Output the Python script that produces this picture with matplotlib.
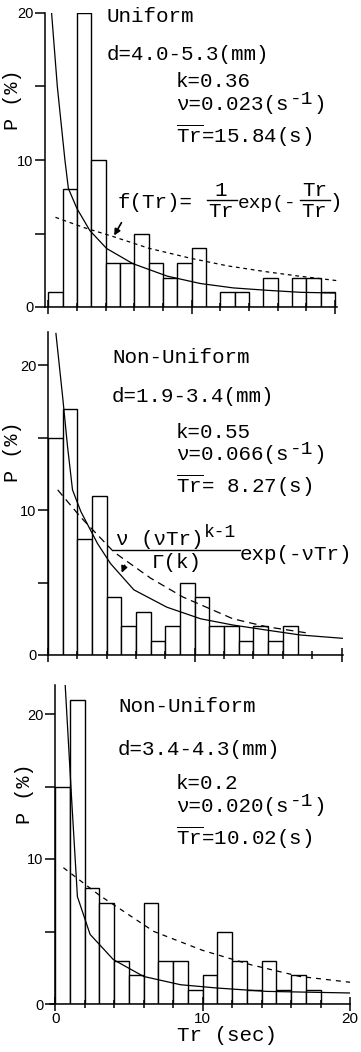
import matplotlib
matplotlib.use("Agg")
import matplotlib.pyplot as plt
from matplotlib.lines import Line2D
import numpy as np

# histogram values, bins of 1 s from 0 to 20
tr_left = np.arange(20)
p_uniform = [1, 8, 20, 10, 3, 3, 5, 3, 2, 3, 4, 0, 1, 1, 0, 2, 0, 2, 2, 1]
p_nonuni_a = [15, 17, 8, 11, 4, 2, 3, 1, 2, 5, 4, 2, 2, 1, 2, 1, 2, 0, 0, 0]
p_nonuni_b = [15, 21, 8, 7, 3, 2, 7, 3, 3, 1, 2, 5, 3, 1, 3, 1, 2, 1, 0, 0]

# fitted curves (solid = gamma, dashed = exponential)
gam1_x = [0.23, 0.63, 1.16, 1.4, 2.0, 2.9, 4.07, 5.9, 8.3, 10.6, 12.9, 15.2, 17.6, 20.0]
gam1_y = [20.0, 15.0, 10.0, 8.07, 6.7, 5.2, 3.98, 2.95, 2.1, 1.6, 1.3, 1.14, 1.0, 0.95]
exp1_x = [0.5, 2.5, 4.5, 7.0, 10.0, 12.5, 15.2, 17.5, 20.1]
exp1_y = [6.1, 5.4, 4.8, 4.0, 3.3, 2.8, 2.4, 2.1, 1.8]

gam2_x = [0.54, 1.0, 1.33, 1.67, 2.24, 3.37, 4.27, 5.85, 8.1, 10.4, 12.6, 14.9, 17.2, 20.1]
gam2_y = [22.2, 17.8, 14.4, 11.4, 9.9, 7.7, 6.3, 4.5, 3.3, 2.5, 2.07, 1.72, 1.38, 1.15]
exp2_x = [0.66, 2.24, 4.5, 7.0, 9.2, 12.6, 14.9, 17.8]
exp2_y = [11.4, 9.5, 7.1, 5.3, 4.0, 2.5, 1.95, 1.5]

gam3_x = [0.68, 1.13, 1.51, 2.37, 3.95, 6.0, 8.5, 11.0, 14.35, 20.0]
gam3_y = [22.0, 13.9, 7.4, 4.8, 3.06, 1.9, 1.33, 1.1, 0.87, 0.76]
exp3_x = [0.56, 3.0, 6.7, 10.0, 13.3, 16.6, 20.0]
exp3_y = [9.4, 7.5, 5.0, 3.7, 2.7, 1.9, 1.5]

plt.rcParams['mathtext.fontset'] = 'custom'
plt.rcParams['mathtext.rm'] = 'Liberation Mono'
plt.rcParams['mathtext.it'] = 'Liberation Mono'
plt.rcParams['mathtext.bf'] = 'Liberation Mono:bold'

W, H = 361, 1052
MONO = 'Liberation Mono'
CW = 0.6 * 15 * 100 / 72  # char advance in px at 15 pt
TRBAR = r'$\overline{\mathrm{Tr}}$'
fig = plt.figure(figsize=(W / 100, H / 100), dpi=100)


def add_panel(left, top, right, bottom, xlim, ylim):
    ax = fig.add_axes([left / W, 1 - bottom / H, (right - left) / W, (bottom - top) / H])
    ax.set_xlim(*xlim)
    ax.set_ylim(*ylim)
    for s in ['top', 'right']:
        ax.spines[s].set_visible(False)
    for s in ['left', 'bottom']:
        ax.spines[s].set_linewidth(1.1)
    ax.set_yticks([0, 5, 10, 15, 20])
    ax.set_yticklabels(['0', '', '10', '', '20'])
    ax.set_xticks([0, 10, 20])
    ax.set_xticks(np.arange(2, 20, 2), minor=True)
    ax.tick_params(axis='y', direction='out', length=7, width=1.1, pad=1.5,
                   labelsize=10.5, labelfontfamily='Liberation Sans')
    ax.tick_params(axis='x', which='major', direction='inout', length=10, width=1.1)
    ax.tick_params(axis='x', which='minor', direction='inout', length=6, width=1.1)
    ax.patch.set_alpha(0)
    return ax


def draw(ax, p, gx, gy, ex, ey, dash):
    ax.bar(tr_left, p, width=1.0, align='edge', facecolor='white',
           edgecolor='black', linewidth=1.0, zorder=1)
    ax.plot(ex, ey, color='black', lw=0.9, linestyle=(0, dash), zorder=2)
    ax.plot(gx, gy, color='black', lw=0.9, zorder=3)


def txt(x, y, s, size=15, ha='left'):
    fig.text(x / W, 1 - y / H, s, fontsize=size, family=MONO, va='baseline', ha=ha)


def hline(x0, x1, y):
    fig.add_artist(Line2D([x0 / W, x1 / W], [1 - y / H, 1 - y / H], color='black', lw=1.0))


def nu_line(x, y, base):
    # "ν=0.023(s" + raised "-1" + ")"
    txt(x, y, base)
    xs = x + len(base) * CW + 1
    txt(xs, y - 6, '-1', size=14)
    txt(xs + 2 * CW * 14 / 15 + 1, y, ')')


# panel 1
ax1 = add_panel(45, 13, 337, 307, (-0.23, 20.15), (0, 20))
draw(ax1, p_uniform, gam1_x, gam1_y, exp1_x, exp1_y, (3, 3))
ax1.tick_params(axis='x', which='both', labelbottom=False)
ax1.annotate('', xy=(4.5, 4.7), xytext=(5.2, 5.9),
             arrowprops=dict(arrowstyle='-|>', color='black', lw=1.2, mutation_scale=9))
txt(107, 22, 'Uniform')
txt(107, 60, 'd=4.0-5.3(mm)')
txt(176, 87, 'k=0.36')
nu_line(176, 110, 'ν=0.023(s')
txt(176, 143, TRBAR + '=15.84(s)')
txt(118, 208, 'f(Tr)=')
txt(221, 196, '1', ha='center')
hline(207, 237, 200)
txt(222, 218, TRBAR, ha='center')
txt(238, 208, 'exp(-', size=14)
txt(315, 196, 'Tr', ha='center')
hline(300, 330, 200)
txt(315, 218, TRBAR, ha='center')
txt(330, 208, ')')

# panel 2
ax2 = add_panel(48, 332, 343, 655, (0.0, 20.1), (0, 22.3))
draw(ax2, p_nonuni_a, gam2_x, gam2_y, exp2_x, exp2_y, (6, 4))
ax2.tick_params(axis='x', which='both', labelbottom=False)
ax2.annotate('', xy=(4.95, 5.5), xytext=(5.3, 6.37),
             arrowprops=dict(arrowstyle='-|>', color='black', lw=1.2, mutation_scale=9))
txt(112, 363, 'Non-Uniform')
txt(112, 402, 'd=1.9-3.4(mm)')
txt(176, 438, 'k=0.55')
nu_line(176, 460, 'ν=0.066(s')
txt(176, 493, TRBAR + '= 8.27(s)')
txt(116, 545, 'ν (νTr)')
txt(204, 537, 'k-1', size=13)
hline(113, 240, 550)
txt(177, 568, 'Γ(k)', ha='center')
txt(240, 560, 'exp(-νTr)')

# panel 3
ax3 = add_panel(50, 685, 350, 1004, (-0.35, 20.0), (0, 22))
ax3.spines['left'].set_position(('data', 0))
draw(ax3, p_nonuni_b, gam3_x, gam3_y, exp3_x, exp3_y, (4, 4))
ax3.tick_params(axis='x', which='major', labelsize=11, pad=1,
                labelfontfamily='Liberation Sans')
txt(118, 712, 'Non-Uniform')
txt(118, 755, 'd=3.4-4.3(mm)')
txt(176, 789, 'k=0.2')
nu_line(176, 812, 'ν=0.020(s')
txt(176, 845, TRBAR + '=10.02(s)')

for yc, xc in [(100, 12), (452, 12), (794, 25)]:
    fig.text(xc / W, 1 - yc / H, 'P (%)', fontsize=14.5, family=MONO,
             rotation=90, ha='center', va='center')
fig.text(227 / W, 1 - 1041 / H, 'Tr (sec)', fontsize=15, family=MONO,
         ha='center', va='baseline')

fig.savefig('out.png', dpi=100)
